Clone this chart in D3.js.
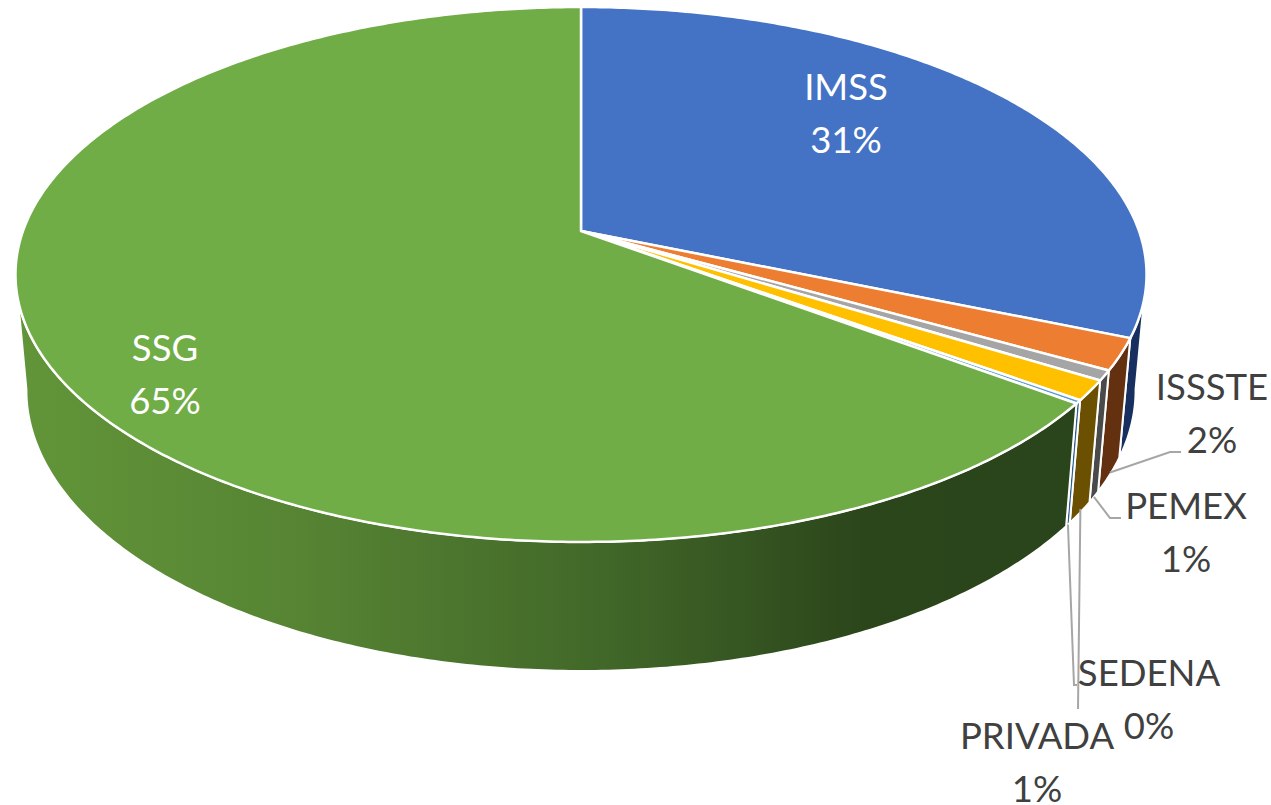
<!DOCTYPE html>
<html>
<head>
<meta charset="utf-8">
<script src="https://cdn.jsdelivr.net/npm/d3@7"></script>
<style>
  html, body { margin: 0; padding: 0; background: #fff; }
  svg { display: block; }
  text { font-family: Lato, "Open Sans", sans-serif; font-size: 36.5px; text-anchor: middle; }
</style>
</head>
<body>
<div id="chart"></div>
<script>
// chart values
var names = ["IMSS", "ISSSTE", "PEMEX", "PRIVADA", "SEDENA", "SSG"];
var shares = [31.3, 1.9, 0.6, 1.2, 0.2, 64.8];
var percentLabels = ["31%", "2%", "1%", "1%", "0%", "65%"];
var topColors = ["#4472c4", "#ed7d31", "#a5a5a5", "#ffc000", "#5b9bd5", "#70ad47"];
var sideColors = ["#17305f", "#63310f", "#4a4a4a", "#6a5000", "#2c5f8c", "url(#ssgSide)"];

var width = 1271, height = 805;

// perspective of the disc, fitted on the picture
var cx = 581, cy = 231;
var radiusX = 558, radiusY = 260.4;
var tilt = 0.1626, depth = 116.5, depthTilt = 0.0192;

// maps an angle (clockwise from the top) and a level (0 top face, 1 bottom face) to the screen
function project(angle, level) {
    var s = Math.sin(angle), c = Math.cos(angle);
    var w = 1 + tilt * c + depthTilt * level;
    return [cx + radiusX * s / w, cy + (-radiusY * c + depth * level) / w];
}

function arcPoints(a0, a1, level) {
    var steps = Math.max(2, Math.ceil((a1 - a0) / 0.01));
    return d3.range(steps + 1).map(function(i) {
        return project(a0 + (a1 - a0) * i / steps, level);
    });
}

var svg = d3.select("#chart").append("svg")
    .attr("width", width)
    .attr("height", height);

var gradient = svg.append("defs").append("linearGradient")
    .attr("id", "ssgSide")
    .attr("gradientUnits", "userSpaceOnUse")
    .attr("x1", 15).attr("y1", 0)
    .attr("x2", 1075).attr("y2", 0);
[[0, "#629539"], [0.27, "#568433"], [0.55, "#426829"], [0.8, "#2b461b"], [1, "#2a441b"]].forEach(function(d) {
    gradient.append("stop").attr("offset", d[0]).attr("stop-color", d[1]);
});

var slices = d3.pie().sort(null).value(function(d) { return d; })(shares);
var line = d3.line();

// outer wall, only the part that faces the viewer
var wallStart = 99 * Math.PI / 180, wallEnd = 261 * Math.PI / 180;
slices.forEach(function(d, i) {
    var a0 = Math.max(d.startAngle, wallStart);
    var a1 = Math.min(d.endAngle, wallEnd);
    if (a0 >= a1) return;
    var pts = arcPoints(a0, a1, 0).concat(arcPoints(a0, a1, 1).reverse());
    svg.append("path")
        .attr("d", line(pts) + "Z")
        .attr("fill", sideColors[i])
        .attr("stroke", "#fff")
        .attr("stroke-width", 2)
        .attr("stroke-linejoin", "round");
});

// top face
slices.forEach(function(d, i) {
    var pts = [[cx, cy]].concat(arcPoints(d.startAngle, d.endAngle, 0));
    svg.append("path")
        .attr("d", line(pts) + "Z")
        .attr("fill", topColors[i])
        .attr("stroke", "#fff")
        .attr("stroke-width", 2.5)
        .attr("stroke-linejoin", "round");
});

// leader lines start on the wall of their slice and end at these elbows
var leaders = {
    ISSSTE: {level: 0.98, elbows: [[1170, 452], [1181, 452]]},
    PEMEX: {level: 1, elbows: [[1110, 518], [1121, 518]]},
    PRIVADA: {level: 0.97, elbows: [[1078, 709]]},
    SEDENA: {level: 1, elbows: [[1074, 685], [1077, 685]]}
};
slices.forEach(function(d, i) {
    var leader = leaders[names[i]];
    if (!leader) return;
    var start = project((d.startAngle + d.endAngle) / 2, leader.level);
    svg.append("path")
        .attr("d", line([start].concat(leader.elbows)))
        .attr("fill", "none")
        .attr("stroke", "#a6a6a6")
        .attr("stroke-width", 2);
});

// label placement: centre x and first baseline
var labelPlace = {
    IMSS: {x: 846, y: 100, color: "#fff"},
    ISSSTE: {x: 1212, y: 400, color: "#404040"},
    PEMEX: {x: 1186, y: 519, color: "#404040"},
    PRIVADA: {x: 1037, y: 749, color: "#404040"},
    SEDENA: {x: 1149, y: 686, color: "#404040"},
    SSG: {x: 165, y: 361, color: "#fff"}
};
names.forEach(function(name, i) {
    var p = labelPlace[name];
    var label = svg.append("text").attr("fill", p.color);
    label.append("tspan").attr("x", p.x).attr("y", p.y).text(name);
    label.append("tspan").attr("x", p.x).attr("y", p.y + 53).text(percentLabels[i]);
});
</script>
</body>
</html>
